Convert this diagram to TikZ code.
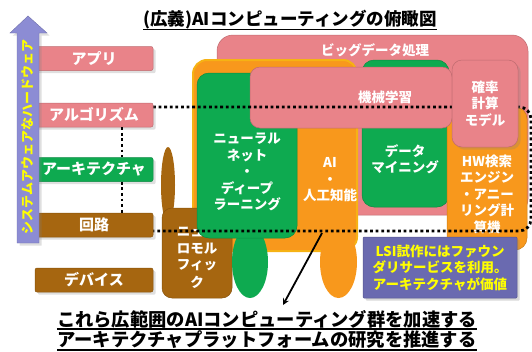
\documentclass[tikz,border=0pt]{standalone}
\usepackage{fontspec}
\setmainfont{Noto Sans CJK JP}
\usetikzlibrary{shadows}

\definecolor{pinkbox}{RGB}{233,131,137}
\definecolor{greenbox}{RGB}{14,170,80}
\definecolor{orangebox}{RGB}{248,152,28}
\definecolor{orangerim}{RGB}{246,178,20}
\definecolor{brownbox}{RGB}{166,102,16}
\definecolor{arrowbar}{RGB}{140,140,212}
\definecolor{notebox}{RGB}{106,106,176}
\definecolor{noteyel}{RGB}{255,255,0}

\newcommand\lblfont{\fontsize{15}{17}\selectfont\bfseries}
\newcommand\boxfont{\fontsize{13.5}{16.5}\selectfont\bfseries}
\newcommand\bigfont{\fontsize{17.5}{21}\selectfont\bfseries}
\newcommand\msgfont{\fontsize{18.3}{21}\selectfont\bfseries}

\begin{document}
\begin{tikzpicture}[x=1pt,y=-1pt,>=stealth,
  box/.style={draw=#1!82!black, line width=0.5pt, fill=#1, inner sep=0pt},
  lbl/.style={box=#1, rounded corners=2pt, minimum width=118pt, minimum height=24pt,
    text=white, font=\lblfont, drop shadow={opacity=0.25}},
  txt/.style={text=white, align=center, font=\boxfont, inner sep=0pt},
  uline/.style={line width=1.3pt},
  dots/.style={line width=2.8pt, dash pattern=on 2.8pt off 2.8pt}]
  \useasboundingbox (0,0) rectangle (532,351);

  % title
  \node[font=\bigfont, inner sep=0pt] (title) at (290,20) {(広義)AIコンピューティングの俯瞰図};
  \draw[uline] ([yshift=-3.5pt]title.base west) -- ([yshift=-3.5pt]title.base east);

  % big data box
  \node[box=pinkbox, rounded corners=16pt, minimum width=311pt, minimum height=180pt] (bigbox) at (372.5,125) {};
  \node[txt] (bigtxt) at (375,50) {ビッグデータ処理};

  % AI container with its finger
  \node[fill=orangebox, draw=orangerim, line width=2pt, rounded corners=14pt,
    minimum width=164pt, minimum height=191pt] (aibox) at (275,155.5) {};
  \fill[orangebox] (338.5,262) ellipse [x radius=18.5pt, y radius=36pt];

  % neuromorphic
  \fill[brownbox] (168,185) ellipse [x radius=7pt, y radius=38pt];
  \node[box=brownbox, rounded corners=10pt, minimum width=70pt, minimum height=90pt] (nmbox) at (197,253) {};
  \node[txt] (nmtxt) at (197,249.5) {ニュー\\ロモル\\フィッ};
  \node[txt] (nmtxtb) at (197,282) {ク};

  % neural net
  \fill[greenbox] (250,262) ellipse [x radius=18pt, y radius=36pt];
  \node[box=greenbox, rounded corners=12pt, minimum width=100pt, minimum height=165pt] (nnbox) at (247,155.5) {};
  \node[txt] (nntxt) at (247,172) {ニューラル\\ネット\\・\\ディープ\\ラーニング};
  \node[txt] (aitxt) at (330,180) {AI\\・\\人工知能};

  % data mining
  \node[box=greenbox, rounded corners=12pt, minimum width=87pt, minimum height=147pt] (dmbox) at (405.5,133.5) {};
  \node[txt] (dmtxt) at (405,159) {データ\\マイニング};

  % HW search engine
  \node[box=orangebox, rounded corners=12pt, minimum width=80pt, minimum height=143pt] (hwbox) at (487,178.5) {};
  \node[txt] (hwtxt) at (487,194) {HW検索\\エンジン\\・アニー\\リング計\\算機};

  % machine learning
  \node[box=pinkbox, rounded corners=10pt, minimum width=202pt, minimum height=61pt] (mlbox) at (351,97.5) {};
  \node[txt] (mltxt) at (385,97) {機械学習};

  % dotted frame
  \coordinate (dotA) at (153,107);
  \coordinate (dotB) at (153,231);
  \draw[dots, rounded corners=12pt] (dotA) -- (531,107) -- (531,231) -- (dotB);

  % probabilistic model
  \node[box=pinkbox, rounded corners=10pt, minimum width=66pt, minimum height=87pt,
    txt, drop shadow={opacity=0.25}] (pmbox) at (485,103.5) {確率\\計算\\モデル};

  % note
  \node[box=notebox, rounded corners=1pt, minimum width=154pt, minimum height=61pt,
    txt, text=noteyel, drop shadow={opacity=0.3}] (note) at (440,267.5)
    {LSI試作にはファウン\\ダリサービスを利用。\\アーキテクチャが価値};

  % left labels
  \node[lbl=pinkbox] (app) at (94,58.5) {アプリ};
  \node[lbl=pinkbox] (algo) at (94,115) {アルゴリズム};
  \node[lbl=greenbox] (arch) at (94,169.5) {アーキテクチャ};
  \node[lbl=brownbox] (circ) at (94,225) {回路};
  \node[lbl=brownbox] (dev) at (94,280) {デバイス};
  \draw[dots] ([xshift=28pt]algo.south) -- ([xshift=28pt]arch.north);
  \draw[dots] ([xshift=28pt]arch.south) -- ([xshift=28pt]circ.north);

  % system-aware arrow
  \fill[arrowbar, draw=arrowbar!80!black, line width=0.4pt, drop shadow={opacity=0.25}]
    (17,243) -- (17,33) -- (10,33) -- (28,16) -- (47,33) -- (39,33) -- (39,243) -- cycle;
  \node[rotate=90, text=noteyel, font=\fontsize{13}{13}\selectfont\bfseries] (sysaw) at (28,137) {システムアウェアなハードウェア};

  % bottom message
  \node[font=\msgfont, inner sep=0pt] (bot1) at (267,319) {これら広範囲のAIコンピューティング群を加速する};
  \node[font=\msgfont, inner sep=0pt] (bot2) at (267,340) {アーキテクチャプラットフォームの研究を推進する};
  \draw[uline] ([yshift=-3pt]bot1.base west) -- ([yshift=-3pt]bot1.base east);
  \draw[uline] ([yshift=-3pt]bot2.base west) -- ([yshift=-3pt]bot2.base east);
  \coordinate (arrS) at (322,233);
  \coordinate (arrE) at (283,305);
  \draw[->, line width=1.8pt] (arrS) -- (arrE);
\end{tikzpicture}
\end{document}
